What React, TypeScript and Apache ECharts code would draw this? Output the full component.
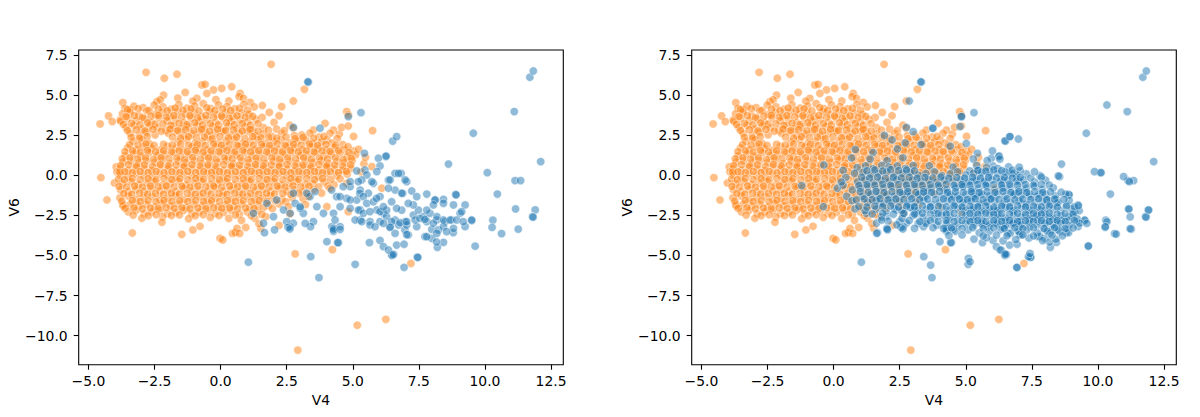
import React, { useEffect, useRef } from "react";
import * as echarts from "echarts";

// ---- data (V4, V6) ----
const ORANGE_OUTER =
  "-2.82,6.42 -2.13,6.05 -1.65,6.30 1.91,6.92 3.17,5.36 -0.71,5.63 -0.59,5.67 -0.27,5.32 0.04,5.42 0.42,5.52 -1.34,5.17 -0.90,4.80 -0.52,5.10 -2.16,5.00 -2.41,4.59 -2.29,4.70 0.74,5.10 0.70,4.90 0.86,4.80 -3.70,4.53 2.75,4.63 2.31,4.28 -0.18,4.72 0.31,4.63 1.12,4.55 -1.05,4.62 -1.62,4.81 1.58,4.35 1.84,3.92 2.21,3.71 2.02,3.30 2.62,3.12 3.07,2.51 3.51,2.82 2.75,2.93 4.77,3.97 4.83,3.76 5.75,2.78 3.95,3.24 4.27,2.82 4.49,2.57 4.58,2.99 4.83,3.07 4.14,2.62 3.72,2.38 4.02,2.21 4.41,2.29 5.03,2.42 -4.56,3.20 -4.53,-0.15 -4.30,-1.54 -4.24,3.70 -3.80,3.45 -4.10,3.35 -3.95,0.52 -4.02,-0.48 -3.92,0.21 -3.69,-1.83";
const ORANGE_UPPER =
  "-3.62,4.18 -3.41,4.07 -3.28,4.31 -2.93,4.22 -2.51,4.38 -2.18,4.27 -1.87,4.12 -1.58,4.41 -1.27,4.19 -0.98,4.33 -0.66,4.47 -0.37,4.16 -0.08,4.39 0.24,4.28 0.53,4.14 0.88,4.42 1.27,4.26 " +
  "-3.71,3.83 -3.43,3.94 -3.09,3.71 -2.79,4.02 -2.47,3.79 -2.21,3.93 -1.92,3.68 -1.63,3.97 -1.31,3.81 -1.02,3.92 -0.73,3.66 -0.41,3.98 -0.12,3.77 0.19,3.91 0.47,3.69 0.79,3.88 1.08,3.78 1.57,3.61 " +
  "-3.78,3.38 -3.52,3.58 -3.18,3.41 -2.87,3.52 -2.62,3.29 -2.33,3.57 -2.02,3.39 -1.71,3.51 -1.38,3.27 -1.11,3.56 -0.79,3.37 -0.52,3.49 -0.18,3.28 0.09,3.58 0.41,3.36 0.73,3.47 1.02,3.31 1.34,3.49 " +
  "-3.58,2.98 -3.27,3.12 -2.98,2.87 -2.69,3.08 -2.39,2.96 -2.07,2.81 -1.79,3.11 -1.48,2.91 -1.22,3.02 -0.88,3.13 -0.61,2.89 -0.29,3.04 0.02,2.82 0.31,3.09 0.62,2.91 0.93,3.01 1.21,2.83 1.62,2.97 2.12,2.88 " +
  "-3.42,2.61 -3.08,2.48 -2.79,2.68 -2.48,2.52 -1.98,2.63 -1.69,2.72 -1.41,2.49 -1.09,2.58 -0.81,2.71 -0.49,2.51 -0.21,2.63 0.12,2.74 0.39,2.48 0.71,2.61 1.03,2.72 1.31,2.47 1.62,2.59 1.93,2.42 2.31,2.61 2.79,2.47 3.38,2.63";
const ORANGE_MAIN =
  "-3.31,2.12 -2.98,2.21 -2.71,1.98 -1.61,2.08 -1.29,2.23 -0.98,1.97 -0.69,2.11 -0.38,2.22 -0.09,2.01 0.21,2.13 0.52,2.24 0.81,1.99 1.12,2.09 1.41,2.22 1.72,1.98 2.01,2.12 2.29,2.21 2.62,2.02 2.91,2.13 3.22,2.19 3.49,1.98 3.82,2.09 4.21,2.01 4.62,1.91 " +
  "-3.52,1.71 -3.19,1.58 -2.91,1.79 -2.62,1.68 -2.29,1.57 -2.01,1.81 -1.69,1.69 -1.42,1.56 -1.08,1.78 -0.79,1.67 -0.51,1.58 -0.19,1.79 0.11,1.68 0.42,1.57 0.69,1.81 1.01,1.71 1.29,1.59 1.61,1.79 1.92,1.68 2.21,1.58 2.49,1.79 2.81,1.71 3.09,1.57 3.41,1.78 3.69,1.69 4.02,1.58 4.31,1.72 4.68,1.61 5.02,1.52 " +
  "-3.61,1.21 -3.29,1.33 -3.02,1.19 -2.71,1.41 -2.39,1.22 -2.11,1.31 -1.79,1.42 -1.51,1.18 -1.19,1.31 -0.91,1.43 -0.59,1.21 -0.31,1.32 0.01,1.41 0.29,1.19 0.61,1.29 0.91,1.42 1.19,1.21 1.49,1.33 1.81,1.41 2.09,1.19 2.41,1.31 2.69,1.43 3.01,1.22 3.31,1.29 3.59,1.41 3.91,1.21 4.19,1.32 4.51,1.39 4.79,1.18 5.11,1.29 " +
  "-3.69,0.82 -3.41,0.91 -3.08,0.78 -2.81,0.92 -2.49,0.81 -2.21,0.93 -1.91,0.71 -1.59,0.89 -1.31,0.79 -0.99,0.92 -0.71,0.72 -0.39,0.88 -0.11,0.81 0.21,0.93 0.49,0.71 0.81,0.89 1.09,0.78 1.41,0.91 1.69,0.72 2.01,0.88 2.29,0.81 2.61,0.92 2.89,0.73 3.21,0.89 3.49,0.79 3.81,0.91 4.09,0.71 4.41,0.88 4.69,0.79 4.98,0.92 " +
  "-3.81,0.39 -3.49,0.31 -3.21,0.49 -2.89,0.41 -2.61,0.29 -2.29,0.51 -2.01,0.39 -1.69,0.28 -1.41,0.49 -1.09,0.41 -0.81,0.31 -0.49,0.48 -0.21,0.39 0.11,0.29 0.39,0.51 0.71,0.41 0.99,0.29 1.31,0.49 1.59,0.38 1.91,0.31 2.19,0.52 2.51,0.39 2.79,0.28 3.11,0.49 3.39,0.41 3.71,0.29 3.99,0.51 4.31,0.38 4.61,0.31 4.92,0.43 " +
  "-3.79,0.02 -3.51,-0.09 -3.19,0.11 -2.91,-0.02 -2.59,-0.11 -2.31,0.09 -1.99,-0.01 -1.71,-0.12 -1.39,0.08 -1.11,-0.03 -0.79,-0.09 -0.51,0.12 -0.19,0.01 0.09,-0.11 0.41,0.09 0.69,-0.02 1.01,-0.12 1.29,0.11 1.61,0.01 1.89,-0.09 2.21,0.12 2.49,-0.01 2.81,-0.11 3.09,0.09 3.41,0.02 3.69,-0.08 4.01,0.11 4.39,-0.02 4.79,0.08 " +
  "-3.71,-0.51 -3.39,-0.41 -3.11,-0.59 -2.79,-0.48 -2.51,-0.39 -2.19,-0.61 -1.91,-0.49 -1.59,-0.38 -1.31,-0.62 -0.99,-0.51 -0.71,-0.39 -0.39,-0.58 -0.11,-0.49 0.21,-0.41 0.49,-0.61 0.81,-0.52 1.09,-0.38 1.41,-0.59 1.69,-0.48 2.01,-0.41 2.29,-0.61 2.61,-0.49 2.89,-0.39 3.21,-0.58 3.49,-0.51 3.91,-0.42 4.29,-0.59 " +
  "-3.79,-0.91 -3.49,-1.02 -3.21,-0.88 -2.89,-1.01 -2.61,-0.82 -2.29,-0.99 -2.01,-0.91 -1.69,-1.03 -1.41,-0.81 -1.09,-0.98 -0.81,-0.89 -0.49,-1.01 -0.21,-0.79 0.11,-0.99 0.39,-0.91 0.71,-1.02 0.99,-0.81 1.31,-0.98 1.59,-0.89 1.91,-1.01 2.19,-0.82 2.51,-0.99 2.79,-0.91 3.11,-1.02 3.52,-0.89 " +
  "-3.81,-1.41 -3.49,-1.29 -3.19,-1.51 -2.91,-1.39 -2.59,-1.31 -2.31,-1.49 -1.99,-1.42 -1.71,-1.28 -1.39,-1.52 -1.11,-1.39 -0.79,-1.31 -0.51,-1.49 -0.19,-1.41 0.09,-1.29 0.41,-1.51 0.69,-1.38 1.01,-1.31 1.29,-1.49 1.61,-1.41 1.89,-1.28 2.31,-1.51 2.71,-1.39 3.12,-1.45 " +
  "-3.69,-1.91 -3.41,-1.79 -3.09,-1.92 -2.81,-1.81 -2.49,-1.99 -2.21,-1.78 -1.89,-1.91 -1.61,-1.79 -1.29,-2.01 -1.01,-1.82 -0.69,-1.89 -0.41,-1.78 -0.09,-1.99 0.19,-1.81 0.51,-1.92 0.79,-1.79 1.11,-2.01 1.39,-1.81 1.81,-1.89 2.21,-1.78 " +
  "-3.49,-2.28 -3.21,-2.19 -2.89,-2.41 -2.61,-2.29 -2.29,-2.18 -2.01,-2.39 -1.69,-2.31 -1.41,-2.19 -1.09,-2.41 -0.81,-2.29 -0.49,-2.21 -0.21,-2.39 0.11,-2.31 0.39,-2.18 0.71,-2.42 1.01,-2.29 1.39,-2.21 " +
  "-2.98,-2.68 -2.19,-2.59 -1.21,-2.71 -0.39,-2.62 0.31,-2.69 0.79,-2.81 1.29,-2.68 1.71,-2.58";
const ORANGE_FILL =
  "-3.52,4.09 -3.12,4.16 -2.71,4.04 -2.35,4.12 -2.02,4.02 -1.72,4.19 -1.42,4.06 -1.12,4.14 -0.82,4.01 -0.52,4.21 -0.22,4.04 0.08,4.13 0.38,4.03 0.71,4.17 1.02,4.05 " +
  "-3.58,3.66 -3.26,3.72 -2.95,3.59 -2.63,3.69 -2.36,3.74 -2.05,3.61 -1.77,3.72 -1.47,3.64 -1.16,3.71 -0.87,3.58 -0.56,3.73 -0.27,3.62 0.04,3.69 0.33,3.56 0.62,3.71 0.94,3.62 1.21,3.67 " +
  "-3.67,3.17 -3.37,3.24 -3.05,3.14 -2.76,3.27 -2.48,3.18 -2.18,3.21 -1.88,3.12 -1.57,3.24 -1.27,3.16 -0.98,3.27 -0.68,3.13 -0.39,3.21 -0.08,3.14 0.22,3.26 0.52,3.15 0.82,3.22 1.13,3.12 1.42,3.21 " +
  "-3.52,2.79 -3.19,2.84 -2.86,2.76 -2.56,2.87 -2.24,2.75 -1.91,2.88 -1.62,2.79 -1.32,2.84 -1.01,2.77 -0.72,2.86 -0.42,2.74 -0.11,2.87 0.19,2.79 0.49,2.83 0.82,2.76 1.12,2.86 1.42,2.74 1.81,2.81 2.41,2.78 " +
  "-3.38,2.36 -3.06,2.31 -2.78,2.41 -1.82,2.38 -1.52,2.32 -1.21,2.41 -0.92,2.33 -0.61,2.39 -0.31,2.29 -0.02,2.41 0.29,2.34 0.61,2.38 0.92,2.29 1.22,2.41 1.53,2.33 1.83,2.38 2.12,2.31 2.47,2.39 2.82,2.28 3.12,2.37 3.52,2.31 3.91,2.42 " +
  "-3.44,1.91 -3.12,1.88 -2.82,1.96 -2.52,1.86 -2.16,1.93 -1.83,1.88 -1.51,1.95 -1.21,1.86 -0.88,1.92 -0.58,1.85 -0.27,1.94 0.03,1.87 0.33,1.93 0.62,1.86 0.94,1.94 1.24,1.87 1.55,1.92 1.86,1.85 2.14,1.95 2.44,1.86 2.76,1.92 3.05,1.87 3.36,1.94 3.67,1.86 3.98,1.91 4.35,1.87 4.82,1.78 " +
  "-3.62,1.47 -3.33,1.52 -3.04,1.44 -2.77,1.54 -2.46,1.46 -2.16,1.53 -1.86,1.45 -1.57,1.52 -1.26,1.46 -0.96,1.55 -0.66,1.44 -0.36,1.52 -0.06,1.46 0.24,1.55 0.54,1.45 0.84,1.53 1.14,1.46 1.44,1.54 1.74,1.45 2.04,1.52 2.34,1.44 2.64,1.55 2.94,1.46 3.24,1.53 3.54,1.45 3.84,1.52 4.14,1.47 4.46,1.53 4.86,1.42 " +
  "-3.72,1.03 -3.43,1.09 -3.14,1.01 -2.84,1.08 -2.54,0.99 -2.25,1.09 -1.95,1.02 -1.66,1.07 -1.36,0.98 -1.06,1.09 -0.76,1.01 -0.46,1.08 -0.16,0.99 0.14,1.07 0.44,1.02 0.74,1.09 1.04,0.99 1.34,1.07 1.64,1.01 1.94,1.08 2.24,0.99 2.54,1.07 2.84,1.02 3.14,1.09 3.44,0.99 3.74,1.06 4.04,1.01 4.34,1.08 4.64,0.98 4.94,1.06 " +
  "-3.78,0.61 -3.48,0.66 -3.18,0.58 -2.88,0.64 -2.58,0.56 -2.28,0.67 -1.98,0.59 -1.68,0.64 -1.38,0.57 -1.08,0.66 -0.78,0.58 -0.48,0.64 -0.18,0.56 0.12,0.66 0.42,0.59 0.72,0.63 1.02,0.56 1.32,0.67 1.62,0.58 1.92,0.64 2.22,0.57 2.52,0.66 2.82,0.59 3.12,0.63 3.42,0.56 3.72,0.66 4.02,0.58 4.32,0.64 4.62,0.57 4.92,0.65 " +
  "-3.82,0.18 -3.62,0.22 -3.34,0.16 -3.04,0.24 -2.74,0.17 -2.44,0.23 -2.14,0.15 -1.84,0.22 -1.54,0.17 -1.24,0.24 -0.94,0.16 -0.64,0.22 -0.34,0.18 -0.04,0.23 0.26,0.15 0.56,0.22 0.86,0.17 1.16,0.24 1.46,0.16 1.76,0.22 2.06,0.18 2.36,0.23 2.66,0.15 2.96,0.22 3.26,0.17 3.56,0.24 3.86,0.16 4.16,0.22 4.46,0.17 4.76,0.24 " +
  "-3.86,-0.24 -3.64,-0.28 -3.34,-0.21 -3.04,-0.27 -2.74,-0.22 -2.44,-0.29 -2.14,-0.21 -1.84,-0.27 -1.54,-0.22 -1.24,-0.29 -0.94,-0.21 -0.64,-0.26 -0.34,-0.22 -0.04,-0.29 0.26,-0.21 0.56,-0.27 0.86,-0.23 1.16,-0.28 1.46,-0.21 1.76,-0.27 2.06,-0.22 2.36,-0.29 2.66,-0.21 2.96,-0.26 3.26,-0.22 3.56,-0.28 3.86,-0.21 4.16,-0.27 4.52,-0.22 " +
  "-3.84,-0.69 -3.56,-0.73 -3.26,-0.67 -2.96,-0.74 -2.66,-0.68 -2.36,-0.72 -2.06,-0.66 -1.76,-0.73 -1.46,-0.69 -1.16,-0.74 -0.86,-0.67 -0.56,-0.72 -0.26,-0.68 0.04,-0.74 0.34,-0.67 0.64,-0.72 0.94,-0.68 1.24,-0.74 1.54,-0.67 1.84,-0.72 2.14,-0.68 2.44,-0.73 2.74,-0.66 3.04,-0.72 3.34,-0.68 3.71,-0.73 4.06,-0.67 " +
  "-3.66,-1.14 -3.36,-1.19 -3.06,-1.12 -2.76,-1.18 -2.46,-1.13 -2.16,-1.19 -1.86,-1.12 -1.56,-1.17 -1.26,-1.13 -0.96,-1.19 -0.66,-1.12 -0.36,-1.18 -0.06,-1.13 0.24,-1.19 0.54,-1.12 0.84,-1.17 1.14,-1.13 1.44,-1.19 1.74,-1.12 2.04,-1.17 2.36,-1.13 2.66,-1.19 2.96,-1.12 3.31,-1.17 " +
  "-3.74,-1.61 -3.34,-1.58 -3.04,-1.64 -2.74,-1.59 -2.44,-1.65 -2.14,-1.58 -1.84,-1.63 -1.54,-1.59 -1.24,-1.64 -0.94,-1.58 -0.64,-1.63 -0.34,-1.59 -0.04,-1.65 0.26,-1.58 0.56,-1.63 0.86,-1.59 1.16,-1.64 1.46,-1.58 1.76,-1.63 2.06,-1.59 2.46,-1.64 " +
  "-3.61,-2.06 -3.28,-2.03 -2.96,-2.09 -2.66,-2.04 -2.36,-2.08 -2.06,-2.02 -1.76,-2.07 -1.46,-2.03 -1.16,-2.09 -0.86,-2.04 -0.56,-2.08 -0.26,-2.02 0.04,-2.07 0.34,-2.03 0.64,-2.09 0.94,-2.04 1.26,-2.08 1.61,-2.02 1.96,-2.07 " +
  "-3.31,-2.48 -2.74,-2.52 -2.44,-2.46 -1.86,-2.51 -1.56,-2.47 -0.96,-2.52 -0.66,-2.46 -0.06,-2.51 0.56,-2.47 1.16,-2.52 1.56,-2.44";
const ORANGE_LOWER =
  "-3.34,-3.60 -2.22,-2.93 -1.47,-3.68 -1.05,-3.41 -0.78,-3.18 -0.02,-3.93 0.08,-4.03 0.45,-3.62 0.55,-3.58 0.62,-3.31 0.72,-3.62 0.95,-3.25 1.52,-3.31 1.45,-3.02 2.82,-4.90 4.23,-4.64 7.20,-5.50 5.17,-9.35 6.25,-8.98 2.92,-10.90 2.21,-3.12 " +
  "5.72,0.54 6.10,-0.81 4.14,-0.81 4.77,-0.50 4.83,-2.27 2.57,-1.96 4.02,-1.96 3.31,-1.32 3.82,-1.11 2.62,-2.41 3.21,-1.83 5.31,0.21 5.42,0.72 5.22,1.62 5.48,1.12";

const BLUE_SPARSE =
  "3.32,5.80 3.30,5.83 5.31,3.90 4.83,3.66 2.75,2.99 3.76,2.93 6.51,2.13 6.66,2.41 5.44,1.37 6.25,1.16 5.97,1.06 6.03,0.58 8.62,0.70 9.56,2.62 10.09,0.16 10.47,-1.17 11.11,3.97 11.14,-0.33 11.35,-0.33 12.11,0.85 11.70,6.11 11.83,6.50 8.89,-1.19 8.91,-1.22 11.90,-2.16 11.80,-2.58 11.82,-2.61 11.16,-2.10 10.30,-2.80 10.27,-3.25 10.63,-3.64 11.26,-3.36 9.50,-2.83 9.63,-4.42 7.44,-5.10 7.46,-5.12 6.94,-5.74 5.09,-5.55 6.47,-4.97 6.49,-4.99 3.41,-5.07 3.72,-6.38 1.05,-5.42 8.80,-3.58 8.20,-4.49 8.43,-4.18 7.73,-3.83 7.99,-3.93 8.17,-4.16 6.03,-4.06 6.16,-4.45 6.35,-4.66 6.54,-4.93 5.63,-4.20 6.66,-4.35 6.94,-4.30 7.10,-3.72 6.60,-3.62 4.02,-4.14 4.46,-4.20 4.21,-3.20 4.27,-3.50 4.43,-4.20 7.99,-3.37 8.24,-3.41 6.97,-3.40 7.04,-3.70 6.26,1.20 6.60,0.12 6.83,0.12 6.35,-0.30 7.04,-0.40 5.46,0.33 5.78,-0.50 6.89,-1.13 7.23,-0.98 7.80,-1.17 8.12,-1.54 8.43,-1.50 9.25,-1.85";
const BLUE_CORE =
  "5.15,0.27 5.53,0.02 5.34,-0.29 5.91,0.23 5.72,-0.40 4.90,-0.71 5.28,-0.92 5.59,-1.12 6.03,-1.33 6.41,-0.29 6.73,0.12 6.98,-0.29 6.60,-0.92 6.35,-0.81 6.85,-1.12 7.42,-1.33 8.11,-1.54 8.81,-1.85 9.06,-2.37 9.50,-2.79 8.74,-2.79 8.49,-2.89 8.18,-2.79 7.67,-2.58 7.29,-2.48 6.98,-2.89 6.60,-2.79 6.16,-2.37 5.91,-2.16 5.28,-2.16 5.15,-1.54 4.77,-1.44 4.39,-1.33 4.27,-2.37 3.89,-2.37 3.64,-1.96 3.51,-2.89 3.13,-2.37 3.01,-2.06 2.82,-1.75 2.75,-2.99 2.63,-3.20 2.50,-2.89 4.27,-3.31 4.52,-3.20 5.28,-2.79 5.65,-2.89 6.03,-2.89 6.41,-3.20 6.73,-3.10 7.04,-3.10 7.42,-3.20 7.80,-2.89 8.05,-2.99 8.43,-3.20 8.81,-3.31 9.25,-3.20 7.80,-3.83 8.18,-3.62 8.55,-3.51 " +
  "4.52,-1.33 4.90,-1.54 5.27,-1.13 5.40,-1.33 5.53,-1.75 5.78,-1.65 5.90,-1.44 5.21,-2.17 5.40,-2.37 5.65,-2.27 6.03,-2.27 6.28,-2.58 6.47,-2.89 6.79,-2.96 7.04,-2.89 7.36,-2.79 7.54,-2.69 7.73,-2.75 7.92,-2.37 8.18,-2.58 8.43,-2.79 8.68,-2.79 8.93,-2.79 9.18,-2.89 9.12,-2.27 8.43,-1.75 8.05,-1.85 7.80,-2.17 7.48,-2.17 7.29,-1.85 7.10,-1.75 6.85,-2.17 6.47,-1.65 6.66,-2.06 6.28,-2.17 6.16,-1.96 5.09,-2.79 5.34,-2.89 5.65,-3.10 5.84,-3.21 6.41,-3.25 6.16,-3.00 4.90,-2.06 4.52,-1.96 4.33,-2.79 4.27,-3.41 4.52,-3.37 4.20,-0.92 4.64,-0.71 4.90,-0.40 5.21,-0.40 " +
  "1.75,-1.75 2.12,-1.54 2.38,-2.16 2.63,-2.37 3.01,-1.96 3.38,-1.33 3.57,-1.02 3.26,-1.12 2.75,-1.12 2.00,-2.58 1.62,-2.99 1.24,-2.37 1.66,-3.58 2.04,-3.40 2.55,-3.25 2.62,-3.35 3.40,-3.20 3.20,-3.00";

const BLUE_SYNTH_CORE =
  "0.82,1.61 1.49,1.42 2.41,1.64 " +
  "0.68,1.08 1.38,1.01 2.02,0.91 2.62,1.09 5.29,1.01 5.81,0.92 " +
  "0.89,0.48 1.21,0.59 1.49,0.41 1.82,0.62 2.09,0.51 2.41,0.58 2.72,0.42 3.01,0.61 3.62,0.59 4.52,0.51 5.41,0.61 5.79,0.49 6.21,0.42 6.62,0.52 " +
  "0.79,0.12 1.11,0.19 1.41,0.02 1.69,0.11 2.01,0.21 2.29,-0.01 2.61,0.12 2.89,0.19 3.21,0.01 3.49,0.11 3.81,0.22 4.09,-0.02 4.41,0.09 4.69,0.21 5.01,0.02 5.29,0.12 5.61,0.19 5.89,-0.01 6.21,0.11 6.49,0.21 6.91,0.01 7.29,0.09 7.81,-0.02 " +
  "0.91,-0.41 1.19,-0.29 1.51,-0.43 1.79,-0.31 2.11,-0.39 2.39,-0.28 2.71,-0.42 2.99,-0.31 3.31,-0.39 3.59,-0.29 3.91,-0.43 4.19,-0.31 4.51,-0.38 4.79,-0.28 5.11,-0.42 5.39,-0.31 5.71,-0.39 5.99,-0.29 6.31,-0.41 6.59,-0.31 6.91,-0.38 7.19,-0.29 7.61,-0.42 8.02,-0.31 " +
  "0.71,-0.91 1.01,-0.81 1.29,-0.68 1.61,-0.89 1.89,-0.79 2.21,-0.71 2.49,-0.92 2.81,-0.81 3.09,-0.69 3.41,-0.88 3.69,-0.79 4.01,-0.72 4.29,-0.91 4.61,-0.79 4.89,-0.69 5.21,-0.89 5.49,-0.81 5.81,-0.71 6.09,-0.92 6.41,-0.79 6.69,-0.68 7.01,-0.91 7.29,-0.81 7.61,-0.69 7.89,-0.89 8.31,-0.78 " +
  "0.49,-1.31 1.09,-1.32 1.41,-1.18 1.69,-1.29 2.01,-1.22 2.29,-1.31 2.61,-1.19 2.89,-1.32 3.21,-1.21 3.49,-1.29 3.81,-1.18 4.09,-1.31 4.41,-1.22 4.69,-1.29 5.01,-1.19 5.29,-1.32 5.61,-1.21 5.89,-1.29 6.21,-1.18 6.49,-1.31 6.81,-1.22 7.09,-1.29 7.41,-1.19 7.69,-1.32 8.01,-1.21 8.39,-1.29 8.79,-1.18 " +
  "0.69,-1.59 1.29,-1.69 1.61,-1.58 1.89,-1.79 2.21,-1.71 2.49,-1.61 2.81,-1.82 3.09,-1.69 3.41,-1.59 3.69,-1.81 4.01,-1.72 4.29,-1.59 4.61,-1.79 4.89,-1.71 5.21,-1.61 5.49,-1.82 5.81,-1.69 6.09,-1.58 6.41,-1.79 6.69,-1.71 7.01,-1.59 7.29,-1.81 7.61,-1.69 7.89,-1.61 8.21,-1.79 8.49,-1.71 8.91,-1.58 " +
  "0.81,-2.09 1.19,-2.21 1.61,-2.11 1.99,-2.22 2.31,-2.08 2.59,-2.19 2.91,-2.02 3.19,-2.21 3.51,-2.11 3.79,-2.19 4.11,-2.02 4.39,-2.21 4.71,-2.09 4.99,-2.19 5.31,-2.01 5.59,-2.22 5.91,-2.11 6.19,-2.19 6.51,-2.02 6.79,-2.21 7.11,-2.09 7.39,-2.19 7.71,-2.01 7.99,-2.22 8.31,-2.11 8.59,-2.19 9.01,-2.09 9.29,-2.21 " +
  "1.81,-2.61 2.59,-2.69 3.01,-2.51 3.39,-2.62 3.81,-2.71 4.09,-2.49 4.41,-2.61 4.69,-2.72 5.01,-2.51 5.29,-2.59 5.61,-2.71 5.89,-2.49 6.21,-2.61 6.49,-2.69 6.81,-2.51 7.09,-2.59 7.41,-2.71 7.69,-2.49 8.01,-2.61 8.29,-2.69 8.61,-2.51 8.89,-2.59 9.21,-2.71 " +
  "2.39,-3.09 3.49,-3.01 3.91,-3.11 4.29,-2.99 4.71,-3.09 4.99,-3.02 5.31,-3.11 5.59,-2.99 5.91,-3.09 6.19,-3.01 6.51,-3.11 6.79,-2.99 7.11,-3.09 7.39,-3.02 7.71,-3.11 7.99,-2.99 8.31,-3.09 8.59,-3.01 8.91,-3.11 9.31,-2.99 " +
  "4.61,-3.49 5.09,-3.41 5.51,-3.59 5.89,-3.49 6.31,-3.39 6.69,-3.61 7.01,-3.51 7.31,-3.41 7.71,-3.59 8.09,-3.49 8.51,-3.41 8.89,-3.58 " +
  "5.31,-3.98 5.79,-3.89 6.41,-4.09 6.89,-4.01 7.39,-3.91 7.91,-4.08 8.41,-3.99";
const BLUE_SYNTH_FILL =
  "1.26,0.28 1.56,0.33 1.86,0.26 2.16,0.35 2.46,0.29 2.76,0.33 3.06,0.27 5.46,0.31 5.76,0.26 6.06,0.34 6.36,0.29 6.76,0.32 7.06,0.27 " +
  "1.06,-0.12 1.36,-0.17 1.66,-0.11 1.96,-0.19 2.26,-0.13 2.56,-0.17 2.86,-0.12 3.16,-0.18 3.46,-0.13 3.76,-0.17 4.06,-0.11 4.36,-0.18 4.66,-0.14 4.96,-0.17 5.26,-0.12 5.56,-0.19 5.86,-0.13 6.16,-0.17 6.46,-0.12 6.76,-0.18 7.06,-0.13 7.46,-0.17 7.86,-0.12 " +
  "0.96,-0.63 1.26,-0.58 1.56,-0.62 1.86,-0.56 2.16,-0.63 2.46,-0.58 2.76,-0.62 3.06,-0.57 3.36,-0.63 3.66,-0.58 3.96,-0.62 4.26,-0.56 4.56,-0.63 4.86,-0.58 5.16,-0.62 5.46,-0.57 5.76,-0.63 6.06,-0.58 6.36,-0.61 6.66,-0.56 6.96,-0.63 7.26,-0.58 7.56,-0.62 7.86,-0.57 8.16,-0.62 " +
  "1.01,-1.02 1.31,-1.07 1.61,-1.01 1.91,-1.08 2.21,-1.03 2.51,-1.07 2.81,-1.02 3.11,-1.08 3.41,-1.03 3.71,-1.07 4.01,-1.01 4.31,-1.08 4.61,-1.03 4.91,-1.07 5.21,-1.02 5.51,-1.08 5.81,-1.03 6.11,-1.07 6.41,-1.01 6.71,-1.08 7.01,-1.03 7.31,-1.07 7.61,-1.02 7.91,-1.08 8.21,-1.03 8.61,-1.06 " +
  "0.86,-1.53 1.16,-1.47 1.46,-1.52 1.76,-1.46 2.06,-1.53 2.36,-1.48 2.66,-1.52 2.96,-1.46 3.26,-1.53 3.56,-1.48 3.86,-1.52 4.16,-1.47 4.46,-1.53 4.76,-1.48 5.06,-1.52 5.36,-1.46 5.66,-1.53 5.96,-1.48 6.26,-1.52 6.56,-1.47 6.86,-1.53 7.16,-1.48 7.46,-1.52 7.76,-1.46 8.06,-1.53 8.36,-1.48 8.71,-1.51 " +
  "0.96,-1.94 1.26,-1.98 1.56,-1.92 1.86,-1.97 2.16,-1.91 2.46,-1.98 2.76,-1.93 3.06,-1.97 3.36,-1.92 3.66,-1.98 3.96,-1.93 4.26,-1.97 4.56,-1.91 4.86,-1.98 5.16,-1.93 5.46,-1.97 5.76,-1.92 6.06,-1.98 6.36,-1.93 6.66,-1.97 6.96,-1.91 7.26,-1.98 7.56,-1.93 7.86,-1.97 8.16,-1.92 8.46,-1.98 8.81,-1.93 9.11,-1.97 " +
  "1.46,-2.41 1.86,-2.37 2.26,-2.43 2.66,-2.38 3.06,-2.42 3.36,-2.36 3.66,-2.43 3.96,-2.38 4.26,-2.42 4.56,-2.37 4.86,-2.43 5.16,-2.38 5.46,-2.42 5.76,-2.36 6.06,-2.43 6.36,-2.38 6.66,-2.42 6.96,-2.37 7.26,-2.43 7.56,-2.38 7.86,-2.42 8.16,-2.36 8.46,-2.43 8.76,-2.38 9.06,-2.42 " +
  "2.06,-2.86 2.86,-2.82 3.26,-2.88 3.66,-2.83 3.96,-2.87 4.26,-2.81 4.56,-2.88 4.86,-2.83 5.16,-2.87 5.46,-2.82 5.76,-2.88 6.06,-2.83 6.36,-2.87 6.66,-2.81 6.96,-2.88 7.26,-2.83 7.56,-2.87 7.86,-2.82 8.16,-2.88 8.46,-2.83 8.76,-2.87 9.11,-2.82 " +
  "3.06,-3.31 3.76,-3.27 4.16,-3.33 4.46,-3.28 4.86,-3.32 5.26,-3.26 5.66,-3.33 6.06,-3.28 6.46,-3.32 6.86,-3.27 7.16,-3.33 7.56,-3.28 7.96,-3.32 8.36,-3.27 8.76,-3.33 9.06,-3.28 " +
  "4.36,-3.76 4.86,-3.72 5.66,-3.78 6.16,-3.73 6.56,-3.77 7.16,-3.72 7.56,-3.78 8.26,-3.73 8.66,-3.77";
const BLUE_SYNTH_SPARSE =
  "6.30,-4.66 6.49,-4.91 7.37,-5.08 7.43,-4.87 5.10,-5.18 5.16,-5.39 3.67,-5.60 6.93,-5.75 -1.21,-0.65 -0.37,0.64 -0.39,-1.96 0.14,-0.81 0.36,0.31 0.46,-0.14 0.36,-0.61 0.29,-0.42 7.60,0.22 8.55,-0.09 8.50,-0.04 4.84,3.66 4.78,3.03 3.01,2.72 3.75,2.93 6.48,2.14 6.67,2.41 6.99,2.26 10.34,4.38 9.87,0.23 10.12,0.16 10.97,-0.08 11.19,-0.40 9.26,-1.90 9.58,-3.00 10.34,-2.90 10.28,-3.21 10.69,-3.67 11.22,-3.33 11.17,-2.11 11.22,-2.59 11.92,-2.17 9.64,-4.41 2.86,4.63 2.21,2.21 1.92,2.49 2.71,2.02 3.31,1.91 4.41,1.81 5.02,1.98 6.01,1.52 6.29,1.01 7.02,0.51 1.82,-2.79 2.01,-3.31 1.63,-3.62 2.03,-3.37";

const X_TICKS = [-5, -2.5, 0, 2.5, 5, 7.5, 10, 12.5];
const Y_TICKS = [-10, -7.5, -5, -2.5, 0, 2.5, 5, 7.5];
const X_LABEL = "V4";
const Y_LABEL = "V6";

const parsePts = (s: string): number[][] =>
  s
    .trim()
    .split(/\s+/)
    .map((p) => p.split(",").map(Number));

const ORANGE = [
  ...parsePts(ORANGE_OUTER),
  ...parsePts(ORANGE_UPPER),
  ...parsePts(ORANGE_MAIN),
  ...parsePts(ORANGE_FILL),
  ...parsePts(ORANGE_LOWER),
];
const BLUE_ORIGINAL = [...parsePts(BLUE_SPARSE), ...parsePts(BLUE_CORE)];
const BLUE_SYNTHETIC = [
  ...parsePts(BLUE_SYNTH_CORE),
  ...parsePts(BLUE_SYNTH_FILL),
  ...parsePts(BLUE_SYNTH_SPARSE),
];

const ORANGE_COLOR = "#ff7f0e";
const BLUE_COLOR = "#1f77b4";
const FONT = "DejaVu Sans";
const FS = 13.9;

const fmt = (v: number) => (v < 0 ? "\u2212" : "") + Math.abs(v).toFixed(1);

export default function App() {
  const ref = useRef<HTMLDivElement>(null);
  useEffect(() => {
    if (!ref.current) return;
    const chart = echarts.init(ref.current, undefined, { renderer: "svg" });
    const grids = [
      { left: 78.7, top: 50, width: 484.6, height: 314.7 },
      { left: 691.7, top: 50, width: 484.6, height: 314.7 },
    ];
    const xAxis = grids.map((_, i) => ({
      type: "value",
      gridIndex: i,
      min: -5.37,
      max: 12.965,
      name: X_LABEL,
      nameLocation: "middle",
      nameGap: 27,
      nameTextStyle: { fontFamily: FONT, fontSize: FS, color: "#000" },
      axisLine: { show: false, onZero: false },
      splitLine: { show: false },
      axisTick: {
        show: true,
        length: 5,
        lineStyle: { color: "#000", width: 1.1 },
        customValues: X_TICKS,
      },
      axisLabel: {
        customValues: X_TICKS,
        formatter: fmt,
        margin: 9,
        fontFamily: FONT,
        fontSize: FS,
        color: "#000",
      },
    }));
    const yAxis = grids.map((_, i) => ({
      type: "value",
      gridIndex: i,
      min: -11.81,
      max: 7.81,
      name: Y_LABEL,
      nameLocation: "middle",
      nameGap: 58,
      nameRotate: 90,
      nameTextStyle: { fontFamily: FONT, fontSize: FS, color: "#000" },
      axisLine: { show: false, onZero: false },
      splitLine: { show: false },
      axisTick: {
        show: true,
        length: 5,
        lineStyle: { color: "#000", width: 1.1 },
        customValues: Y_TICKS,
      },
      axisLabel: {
        customValues: Y_TICKS,
        formatter: fmt,
        margin: 11,
        fontFamily: FONT,
        fontSize: FS,
        color: "#000",
      },
    }));
    const mk = (data: number[][], color: string, i: number) => ({
      type: "scatter",
      xAxisIndex: i,
      yAxisIndex: i,
      data,
      symbol: "circle",
      symbolSize: 8.3,
      large: false,
      progressive: 0,
      silent: true,
      itemStyle: { color, opacity: 0.5, borderColor: "#ffffff", borderWidth: 0.9 },
    });
    chart.setOption({
      animation: false,
      backgroundColor: "#ffffff",
      grid: grids.map((g) => ({
        ...g,
        show: true,
        borderColor: "#000",
        borderWidth: 1.1,
        backgroundColor: "transparent",
      })),
      xAxis,
      yAxis,
      series: [
        mk(ORANGE, ORANGE_COLOR, 0),
        mk(BLUE_ORIGINAL, BLUE_COLOR, 0),
        mk(ORANGE, ORANGE_COLOR, 1),
        mk(BLUE_ORIGINAL, BLUE_COLOR, 1),
        mk(BLUE_SYNTHETIC, BLUE_COLOR, 1),
      ],
    });
    return () => chart.dispose();
  }, []);
  return (
    <div
      ref={ref}
      style={{ position: "fixed", left: 0, top: 0, width: 1200, height: 417, background: "#fff" }}
    />
  );
}
